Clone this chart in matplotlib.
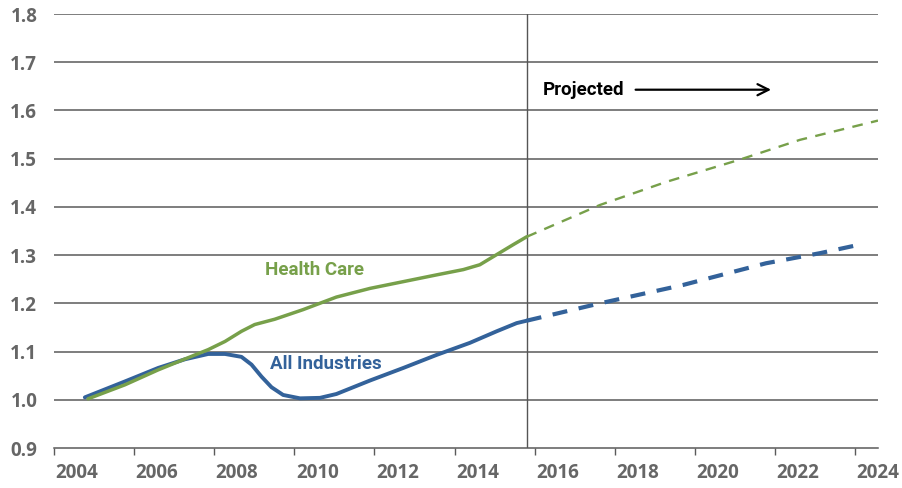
import matplotlib
matplotlib.use("Agg")
import matplotlib.pyplot as plt
from matplotlib import font_manager as fm

names = {f.name for f in fm.fontManager.ttflist}
narrow = "Liberation Sans Narrow" if "Liberation Sans Narrow" in names else "Roboto"

# ---- data ----
ind_years = [2004.2, 2005.2, 2006.03, 2006.7, 2007.28, 2007.7, 2008.11, 2008.36, 2008.61,
             2008.86, 2009.15, 2009.57, 2010.07, 2010.48, 2011.32, 2012.15, 2012.98,
             2013.81, 2014.48, 2014.98, 2015.23]
ind_vals = [1.005, 1.038, 1.066, 1.084, 1.095, 1.095, 1.089, 1.073, 1.048,
            1.026, 1.010, 1.003, 1.004, 1.012, 1.040, 1.066, 1.093,
            1.118, 1.142, 1.159, 1.164]
ind_proj_years = [2015.23, 2017.06, 2019.13, 2021.2, 2022.55, 2023.5]
ind_proj_vals = [1.164, 1.200, 1.238, 1.283, 1.304, 1.321]

hc_years = [2004.28, 2005.2, 2006.03, 2006.86, 2007.28, 2007.7, 2008.11, 2008.44, 2008.94,
            2009.65, 2010.48, 2011.32, 2012.15, 2012.98, 2013.65, 2014.06, 2014.4,
            2014.9, 2015.23]
hc_vals = [1.002, 1.031, 1.062, 1.090, 1.104, 1.121, 1.142, 1.156, 1.167,
           1.187, 1.213, 1.231, 1.245, 1.259, 1.270, 1.280, 1.297,
           1.322, 1.338]
hc_proj_years = [2015.23, 2017.06, 2018.72, 2020.55, 2022.05, 2024.0]
hc_proj_vals = [1.338, 1.404, 1.452, 1.498, 1.539, 1.579]

yticks = [0.9, 1.0, 1.1, 1.2, 1.3, 1.4, 1.5, 1.6, 1.7, 1.8]
xlabels = list(range(2004, 2025, 2))
projection_start = 2015.23

GREEN = "#77a04a"
BLUE = "#33629a"
GRAY = "#666666"

fig = plt.figure(figsize=(9.03, 4.88), dpi=100)
ax = fig.add_axes([54/903, 1-448/488, (878-54)/903, (448-14)/488])

ax.set_xlim(2003.43, 2024.0)
ax.set_ylim(0.9, 1.8)

for v in yticks[1:]:
    ax.axhline(v, color="#5a5a5a", lw=1.1, zorder=1)
ax.axvline(projection_start, color="#555555", lw=1.0, zorder=1)

ax.plot(ind_years, ind_vals, color=BLUE, lw=2.8, solid_capstyle="round",
        solid_joinstyle="round", zorder=3)
ax.plot(ind_proj_years, ind_proj_vals, color=BLUE, lw=3.0, dashes=(3.6, 2.8), zorder=3)
ax.plot(hc_years, hc_vals, color=GREEN, lw=2.5, solid_capstyle="round",
        solid_joinstyle="round", zorder=3)
ax.plot(hc_proj_years, hc_proj_vals, color=GREEN, lw=1.7, dashes=(4.5, 3.6), zorder=3)

for s in ["top", "right", "left"]:
    ax.spines[s].set_visible(False)
ax.spines["bottom"].set_color("#5a5a5a")
ax.spines["bottom"].set_linewidth(1.1)

tick_font = dict(family="Open Sans", weight="bold", size=13.5)
ax.set_yticks(yticks)
ax.set_yticklabels([f"{v:.1f}" for v in yticks], color=GRAY, **tick_font)
ax.tick_params(axis="y", length=0, pad=12)

major = [2003.43 + 2*i for i in range(11)]
ax.set_xticks(major)
ax.set_xticklabels([""]*len(major))
ax.tick_params(axis="x", which="major", length=5, width=1.0, color="#5a5a5a", direction="out")
ax.set_xticks(xlabels, minor=True)
ax.set_xticklabels([str(x) for x in xlabels], minor=True, color=GRAY, **tick_font)
ax.tick_params(axis="x", which="minor", length=0, pad=11)

lab_font = dict(family=narrow, weight="bold", size=13.5)
ax.text(2009.94, 1.270, "Health Care", color=GREEN, ha="center", va="center", **lab_font)
ax.text(2010.22, 1.075, "All Industries", color=BLUE, ha="center", va="center", **lab_font)
ax.text(2015.64, 1.643, "Projected", color="black", ha="left", va="center", **lab_font)
ax.annotate("", xy=(2021.4, 1.643), xytext=(2017.88, 1.643),
            arrowprops=dict(arrowstyle="->", color="black", lw=1.6, mutation_scale=20))

fig.savefig("out.png", dpi=100)
